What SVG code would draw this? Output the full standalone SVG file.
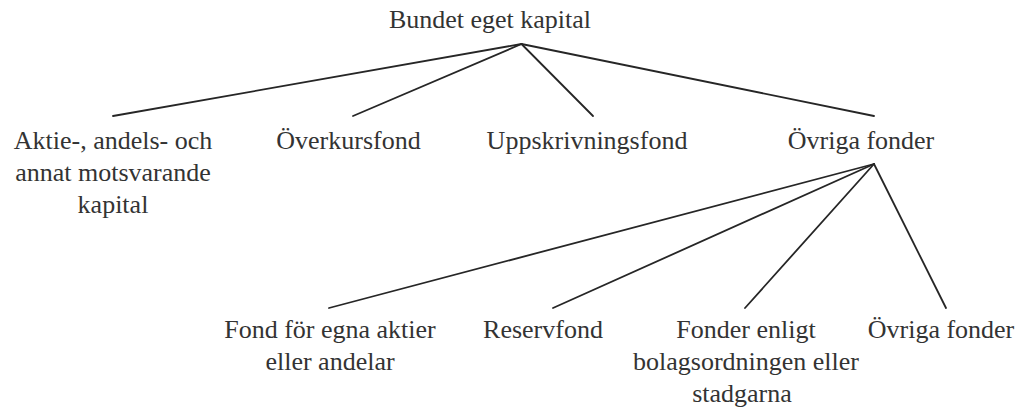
<svg xmlns="http://www.w3.org/2000/svg" width="1020" height="410" viewBox="0 0 1020 410">
  <style>
    text { font-family: 'Liberation Serif', 'Times New Roman', Times, serif; font-size: 26px; fill: #333333; text-anchor: middle; }
    .edge { stroke: #262626; stroke-width: 1.8; fill: none; stroke-linecap: round; }
  </style>
  <rect width="1020" height="410" fill="#ffffff"/>
  <g id="connectors">
    <line class="edge" x1="521.5" y1="44" x2="113" y2="116"/>
    <line class="edge" x1="521.5" y1="44" x2="353" y2="116"/>
    <line class="edge" x1="521.5" y1="44" x2="593" y2="116"/>
    <line class="edge" x1="521.5" y1="44" x2="874" y2="116"/>
    <line class="edge" x1="874" y1="164" x2="329" y2="308"/>
    <line class="edge" x1="874" y1="164" x2="553" y2="308"/>
    <line class="edge" x1="874" y1="164" x2="745" y2="308"/>
    <line class="edge" x1="874" y1="164" x2="946" y2="308"/>
  </g>
  <g id="root"><text x="490" y="28">Bundet eget kapital</text></g>
  <g id="aktiekapital">
    <text x="113" y="149">Aktie-, andels- och</text>
    <text x="113" y="181">annat motsvarande</text>
    <text x="113" y="213">kapital</text>
  </g>
  <g id="overkursfond"><text x="348.5" y="149">Överkursfond</text></g>
  <g id="uppskrivningsfond"><text x="587" y="149">Uppskrivningsfond</text></g>
  <g id="ovriga-fonder"><text x="861" y="149">Övriga fonder</text></g>
  <g id="fond-egna-aktier">
    <text x="330" y="338">Fond för egna aktier</text>
    <text x="330" y="370">eller andelar</text>
  </g>
  <g id="reservfond"><text x="543" y="338">Reservfond</text></g>
  <g id="fonder-bolagsordning">
    <text x="746" y="338">Fonder enligt</text>
    <text x="746" y="370">bolagsordningen eller</text>
    <text x="742" y="402">stadgarna</text>
  </g>
  <g id="ovriga-fonder-2"><text x="941" y="338">Övriga fonder</text></g>
</svg>
